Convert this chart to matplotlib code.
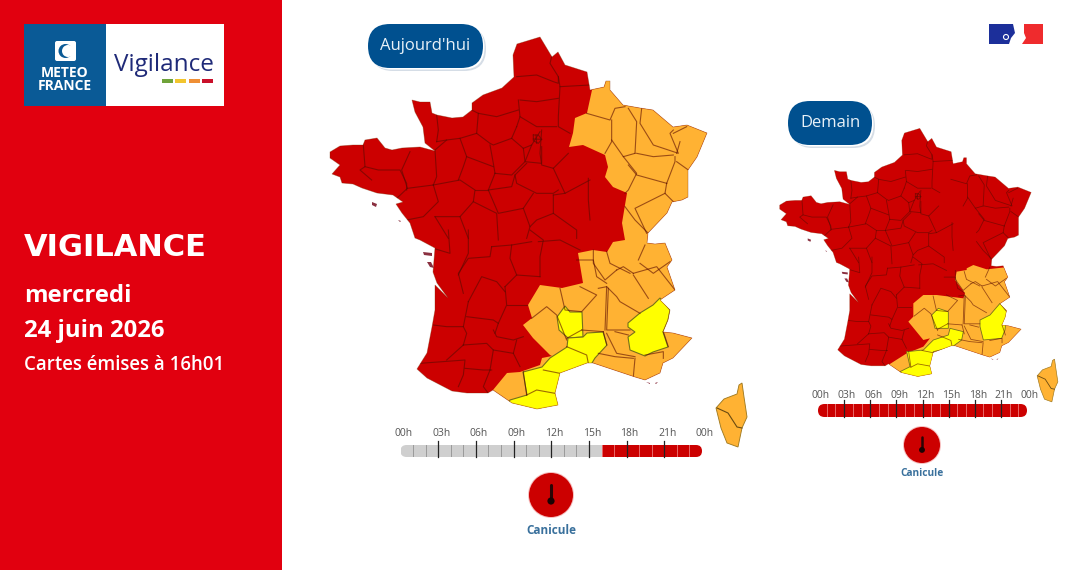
import matplotlib
matplotlib.use('Agg')
import matplotlib.pyplot as plt
from matplotlib.patches import Polygon, Rectangle, Circle, FancyBboxPatch

plt.rcParams['font.family'] = ['Open Sans', 'DejaVu Sans']

RED = '#cc0000'
ORANGE = '#ffb233'
YELLOW = '#ffff00'
SIDE_RED = '#e1000f'
BLUE = '#00508f'

# map outlines, read as pixels of the big map
france = [(540,37),(517,44),(513,55),(514,77),(502,88),(483,95),(472,103),(472,110),(463,117),(452,118),
          (437,115),(432,113),(430,102),(420,102),(412,100),(415,112),(423,127),(425,143),(435,151),(420,147),
          (402,148),(392,150),(385,148),(377,138),(365,140),(363,145),(353,145),(340,146),(330,152),(330,158),
          (340,165),(332,174),(340,177),(342,183),(353,184),(362,188),(377,193),(393,195),(403,202),(396,204),
          (402,213),(410,223),(415,238),(420,240),(435,248),(433,272),(437,283),(448,298),(435,285),(435,310),
          (432,327),(427,353),(417,369),(427,378),(452,391),(467,393),(488,393),(493,390),(512,403),(537,409),
          (558,405),(555,393),(560,373),(587,363),(593,363),(623,373),(635,377),(645,380),(660,373),(663,363),
          (673,358),(692,338),(673,333),(663,332),(668,320),(670,310),(660,300),(675,290),(667,267),(672,260),
          (665,243),(655,244),(647,243),(648,233),(667,213),(672,202),(682,200),(688,197),(688,170),
          (697,157),(707,133),(687,125),(673,127),(653,110),(640,108),(623,105),(610,90),(610,81),(606,81),(604,87),
          (590,90),(587,72),(565,65),(558,52),(552,57)]
corsica = [(742,383),(744,397),(747,417),(742,428),(738,447),(727,443),(721,428),(716,408),(724,399),(737,394),(739,385)]
corsica_border = [(717,408),(728,413),(737,427),(742,428)]
islands = [[(423,252),(432,253),(432,256),(424,255)],[(427,262),(431,262),(434,268),(430,267)],
           [(372,202),(377,204),(376,207),(372,205)],[(398,220),(401,221),(400,222)],
           [(646,382),(650,383),(650,384)],[(655,383),(658,382),(656,384)]]

# department borders, read in the zoomed crops (3x)
north_borders = [
    [(590,170),(650,165),(700,185),(715,190),(715,170),(690,130),(695,110)],
    [(600,240),(650,245),(715,235)],[(715,170),(720,200),(715,290),(715,320),(750,340)],[(720,200),(810,195)],
    [(595,240),(600,290),(590,320)],[(600,290),(650,320),(710,320)],[(455,270),(475,280),(530,290),(595,270)],
    [(475,280),(470,340),(420,355),(380,360),(350,365)],[(350,285),(355,330),(350,365)],
    [(470,340),(510,370),(520,375),(575,355),(590,320)],[(380,360),(345,390),(350,470),(340,495)],
    [(420,355),(440,410),(430,440),(415,480)],[(510,375),(520,430),(525,460)],[(440,410),(520,440)],
    [(130,375),(135,440),(120,450),(155,480)],[(135,440),(175,450),(240,450),(260,490),(260,510)],
    [(270,395),(245,450),(262,505),(340,495)],[(225,540),(262,505)],[(340,495),(355,545),(310,590),(260,600)],
    [(340,495),(420,480),(465,510),(460,545),(420,590),(345,590)],[(525,460),(575,465),(615,425),(610,385),(575,355)],
    [(525,460),(505,510),(575,500),(585,465),(620,430)],[(610,385),(635,375),(660,335)],[(635,375),(615,425),(665,430),(665,380)],
    [(665,330),(660,400),(665,435),(700,445),(745,400)],[(700,445),(735,520),(810,480)],[(585,465),(590,490),(650,520),(700,520),(715,510)],
    [(805,475),(805,540),(810,600)],[(505,510),(535,580),(610,565),(640,520)],[(610,565),(630,620),(620,655)],
    [(700,525),(700,580),(770,630),(770,655)],[(700,580),(650,600),(630,620)],[(465,510),(505,510)],[(460,545),(530,580),(535,660)],
    [(420,590),(445,655)],[(345,590),(385,655)],[(735,520),(700,525)],
    [(800,280),(870,300),(885,265),(915,260)],[(875,300),(875,365),(855,400)],[(875,360),(910,410),(945,400)],
    [(945,400),(950,305),(925,265)],[(965,265),(960,310),(1000,375),(1075,400),(1050,340),(1060,330)],[(950,400),(1000,410),(1060,405)],
    [(1060,340),(1100,320)],[(1080,365),(1070,400)],[(1065,410),(1065,425),(1040,490)],[(910,410),(950,460),(925,510),(915,520)],
    [(925,435),(950,465),(1040,490)],[(1070,425),(1105,450)],[(1040,490),(1035,520),(1060,545)],[(1035,520),(945,565),(980,640)],
    [(915,560),(945,600),(985,640)],
]
south_borders = [
    [(385,0),(390,70),(340,55)],[(445,0),(445,70),(415,135)],[(515,50),(510,80),(445,85),(415,130),(430,190)],
    [(575,45),(570,85),(590,135)],[(630,0),(670,30),(660,80),(660,140)],[(780,60),(720,30),(655,35)],
    [(660,140),(590,135),(555,170)],[(515,50),(575,45),(635,35)],[(445,215),(485,140),(530,155),(555,185)],
    [(555,170),(560,225),(535,280)],[(620,225),(560,225)],[(445,215),(430,290),(380,290),(340,285)],
    [(440,260),(520,270),(535,280),(525,310)],[(430,345),(440,310),(430,290)],[(430,345),(500,340),(520,360),(510,420)],
    [(380,390),(430,345)],[(300,400),(435,390),(430,435),(415,470)],[(520,300),(530,320),(580,330),(610,320)],
    [(590,330),(580,370),(600,410)],[(520,360),(580,370)],[(510,420),(490,470),(505,490)],[(435,415),(490,420),(515,420)],
    [(635,265),(680,230),(710,255),(740,330)],[(720,175),(735,240),(785,245),(830,195),(780,170)],[(835,175),(860,170),(855,300)],
    [(785,300),(850,305)],[(865,175),(860,300),(880,300),(930,300)],[(860,170),(890,200),(900,215),(960,250)],
    [(770,90),(820,90),(830,140),(860,160)],[(820,60),(820,100),(855,150),(890,120)],[(860,65),(870,100),(930,130)],
    [(890,120),(910,110),(940,130)],[(940,130),(1010,110),(1065,180)],[(960,100),(1000,130),(1050,95)],[(985,205),(940,135)],
    [(975,45),(955,90)],[(860,310),(890,370),(945,380)],[(885,305),(925,315)],[(835,370),(885,380),(940,385)],[(945,385),(940,440)],
    [(975,375),(1030,365),(1030,385)],[(1030,305),(1045,350)],[(610,425),(620,495)],[(620,495),(650,480),(705,490)],
    [(670,420),(720,430)],[(740,350),(800,375),(805,400)],[(785,300),(740,325)],[(850,305),(860,345)],
]
paris = [[(640,345),(655,345),(665,358),(655,370),(640,362),(640,345)],[(648,345),(650,370)],[(640,357),(665,358)]]

# alert zones
orange_today = [(592,90),(587,113),(575,118),(573,133),(569,147),(583,145),(605,155),(608,167),(605,177),(613,187),(627,193),
                (622,223),(625,240),(613,242),(607,252),(593,250),(578,253),(583,283),(562,288),(540,285),(528,305),(532,318),
                (523,325),(533,338),(550,355),(552,356),(542,358),(540,365),(520,372),(507,373),(493,390),(510,430),(700,430),
                (720,350),(720,100),(600,60)]
yellow_today = [[(565,306),(557,317),(559,330),(568,338),(583,337),(582,312),(570,312)],
                [(568,338),(583,337),(587,333),(603,332),(607,345),(595,358),(592,363),(590,380),(570,420),(500,420),(510,400),
                 (527,395),(523,372),(542,367),(550,358),(567,347)],
                [(660,298),(670,310),(668,320),(663,332),(668,347),(653,352),(645,356),(630,350),(628,337),(635,332),(628,327),
                 (628,323),(640,313),(653,305)]]
# tomorrow zones are read in the 3x crop of the small map
orange_tomorrow = [(590,25),(590,30),(560,35),(555,60),(585,100),(580,115),(500,105),(460,105),(430,130),(430,170),(415,185),
                   (460,240),(480,235),(460,260),(410,280),(355,315),(390,345),(420,400),(800,400),(800,20),(705,22),(650,28),(610,15)]
yellow_tomorrow = [[(505,145),(485,165),(495,205),(535,205),(535,155)],
                   [(540,205),(580,215),(575,240),(545,262),(490,275),(490,360),(415,360),(390,335),(420,320),(410,275),(460,270),(490,240),(535,225)],
                   [(690,130),(710,155),(705,210),(695,235),(640,240),(630,200),(630,180),(660,165)]]

# timelines
tick_labels = ['00h', '03h', '06h', '09h', '12h', '15h', '18h', '21h', '00h']
tick_hours = [0, 3, 6, 9, 12, 15, 18, 21, 24]
today_levels = [0]*16 + [1]*8
tomorrow_levels = [1]*24
date_lines = ['mercredi', '24 juin 2026']
issued = 'Cartes émises à 16h01'

fig = plt.figure(figsize=(10.88, 5.7), dpi=100)
ax = fig.add_axes([0, 0, 1, 1])
ax.set_xlim(0, 1088)
ax.set_ylim(570, 0)
ax.axis('off')


def crop(pts, x0, y0):
    return [(x0 + x/3, y0 + y/3) for x, y in pts]


def draw_map(oranges, yellows, s, dx, dy, lw):
    def tr(pts):
        return [(x*s + dx, y*s + dy) for x, y in pts]
    base = Polygon(tr(france), closed=True, fc=RED, ec='none', zorder=2)
    ax.add_patch(base)
    for poly in oranges:
        p = Polygon(poly, closed=True, fc=ORANGE, ec='none', zorder=3)
        ax.add_patch(p)
        p.set_clip_path(base)
    for poly in yellows:
        p = Polygon(poly, closed=True, fc=YELLOW, ec='#77701a', lw=lw, zorder=4)
        ax.add_patch(p)
        p.set_clip_path(base)
    lines = [crop(b, 320, 20) for b in north_borders + paris] + [crop(b, 320, 230) for b in south_borders]
    for b in lines:
        xs, ys = zip(*tr(b))
        l, = ax.plot(xs, ys, color='#5a0a00', alpha=0.6, lw=lw, zorder=5, solid_joinstyle='round')
        l.set_clip_path(base)
    ax.add_patch(Polygon(tr(france), closed=True, fc='none', ec='#7a2a00', alpha=0.4, lw=lw*0.7, zorder=6))
    ax.add_patch(Polygon(tr(corsica), closed=True, fc=ORANGE, ec='#a07a20', lw=lw*0.8, zorder=3))
    xs, ys = zip(*tr(corsica_border))
    ax.plot(xs, ys, color='#6a4a10', lw=lw, zorder=4)
    for isl in islands:
        ax.add_patch(Polygon(tr(isl), closed=True, fc='#8a3040', ec='none', zorder=3))


def draw_timeline(x0, x1, y0, y1, levels, label_y, size):
    # one small axes per timeline, its x scale is in hours
    tl = fig.add_axes([x0/1088, 1 - y1/570, (x1 - x0)/1088, (y1 - y0)/570])
    tl.set_xlim(0, 24)
    tl.set_ylim(0, 1)
    tl.axis('off')
    r = 0.5*24*(y1 - y0)/(x1 - x0)
    clip = FancyBboxPatch((0, 0), 24, 1, boxstyle=f'round,pad=0,rounding_size={r}', mutation_aspect=0.5/r,
                          transform=tl.transData, fc='none', ec='none')
    tl.add_patch(clip)
    for h, lev in enumerate(levels):
        b = tl.barh(0.5, 1, left=h, height=1, color=RED if lev else '#cfcfcf', linewidth=0)[0]
        b.set_clip_path(clip)
        if h > 0:
            col = '#e86a6a' if lev else '#9a9a9a'
            tl.plot([h, h], [0, 1], color=col, lw=0.7, zorder=3)
    tl.set_zorder(2)
    for h, lab in zip(tick_hours, tick_labels):
        px = x0 + h*(x1 - x0)/24
        ax.text(px + 3, label_y, lab, ha='center', va='center', fontsize=size, color='#555555')
        if 0 < h < 24:
            tl.plot([h, h], [0, 1.33], color='#222222', lw=0.9, zorder=4, clip_on=False)


def draw_icon(cx, cy, r, name, name_y, size):
    ax.add_patch(Circle((cx, cy), r + 1, fc='#f7c0c0', ec='none', zorder=2))
    ax.add_patch(Circle((cx, cy), r, fc=RED, ec='none', zorder=3))
    k = r/22
    ax.plot([cx, cx], [cy - 10*k, cy + 4*k], color='#2a0505', lw=2.2*k, solid_capstyle='round', zorder=4)
    ax.add_patch(Circle((cx, cy + 6*k), 3.6*k, fc='#1a0303', ec='none', zorder=4))
    ax.text(cx, name_y, name, ha='center', va='center', fontsize=size, color='#39709c', fontweight='bold')


def draw_pill(x0, x1, y0, y1, label, size):
    h = y1 - y0
    for off, col in [(3, '#d5dde6'), (1.5, '#ffffff')]:
        ax.add_patch(FancyBboxPatch((x0 + off, y0 + off), x1 - x0, h, boxstyle=f'round,pad=0,rounding_size={h/2}',
                                    fc=col, ec='none', zorder=6))
    ax.add_patch(FancyBboxPatch((x0, y0), x1 - x0, h, boxstyle=f'round,pad=0,rounding_size={h/2}',
                                fc=BLUE, ec='none', zorder=7))
    ax.text((x0 + x1)/2, (y0 + y1)/2, label, ha='center', va='center', color='#e8f1f8', fontsize=size, zorder=8)


# left panel
ax.add_patch(Rectangle((0, 0), 282, 570, fc=SIDE_RED, ec='none'))
ax.add_patch(Rectangle((24, 24), 82, 82, fc='#0a5a96', ec='none', zorder=2))
ax.add_patch(Rectangle((106, 24), 118, 82, fc='white', ec='none', zorder=2))
ax.add_patch(FancyBboxPatch((55, 41), 21, 20, boxstyle='round,pad=0,rounding_size=2', fc='white', ec='none', zorder=3))
ax.add_patch(Circle((65.5, 51), 7, fc='#0a5a96', ec='none', zorder=4))
ax.add_patch(Circle((68, 51), 6, fc='white', ec='none', zorder=5))
ax.text(65, 73, 'METEO', ha='center', va='center', color='white', fontsize=10, fontweight='bold', zorder=4)
ax.text(65, 86, 'FRANCE', ha='center', va='center', color='white', fontsize=10, fontweight='bold', zorder=4)
ax.text(164, 65, 'Vigilance', ha='center', va='center', color='#1f2a78', fontsize=17.5, zorder=4)
for x, col in zip([162, 175, 189, 202], ['#6fa33a', '#f2c52e', '#ef8f35', '#c9102a']):
    ax.add_patch(Rectangle((x, 79), 11, 3.5, fc=col, ec='none', zorder=4))
ax.text(24, 247, 'VIGILANCE', color='white', fontsize=22, fontweight='bold', va='center', family='DejaVu Sans')
ax.text(24, 296, date_lines[0], color='white', fontsize=17.2, fontweight='bold', va='center')
ax.text(24, 331, date_lines[1], color='white', fontsize=17.2, fontweight='bold', va='center')
ax.text(24, 365, issued, color='white', fontsize=13.4, fontweight='semibold', va='center')

# maps
draw_map([orange_today], yellow_today, 1, 0, 0, 0.8)
draw_map([crop(orange_tomorrow, 770, 260)], [crop(y, 770, 260) for y in yellow_tomorrow], 0.667, 559.6, 103.7, 0.6)

draw_pill(368, 483, 24, 68, "Aujourd'hui", 12)
draw_pill(788, 872, 101, 145, 'Demain', 12)

draw_timeline(400.5, 702, 445, 457, today_levels, 434, 7.5)
draw_timeline(818, 1027, 404, 417, tomorrow_levels, 395, 7.5)
draw_icon(551, 495, 22, 'Canicule', 530, 8.5)
draw_icon(922, 445, 18, 'Canicule', 473, 7.3)

# flag
ax.add_patch(Polygon([(989, 24), (1013, 24), (1015, 33), (1011, 38), (1009, 44), (989, 44)], closed=True,
                     fc='#1c2f9a', ec='none', zorder=2))
ax.add_patch(Polygon([(1024, 24), (1043, 24), (1043, 44), (1022, 44), (1026, 38), (1024, 33)], closed=True,
                     fc='#ef2b2d', ec='none', zorder=2))
ax.add_patch(Circle((1006, 37), 2.5, fc='none', ec='white', lw=0.8, zorder=4))

fig.savefig('out.png', dpi=100)
